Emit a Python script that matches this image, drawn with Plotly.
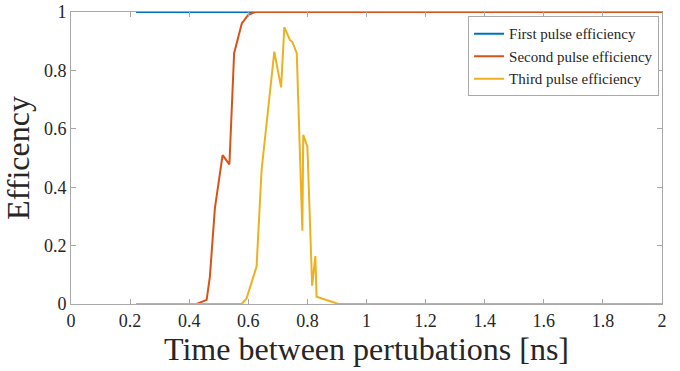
import plotly.graph_objects as go

# Data
x_first = [0.22, 0.6, 1.0, 2.0]
y_first = [1.0, 1.0, 1.0, 1.0]

x_second = [0.22, 0.425, 0.459, 0.470, 0.487, 0.513, 0.536, 0.552, 0.578, 0.600, 0.623, 1.0, 2.0]
y_second = [0.0, 0.0, 0.014, 0.094, 0.328, 0.510, 0.478, 0.859, 0.961, 0.990, 1.0, 1.0, 1.0]

x_third = [0.22, 0.578, 0.594, 0.628, 0.645, 0.688, 0.711, 0.722, 0.741, 0.749, 0.764,
           0.783, 0.786, 0.800, 0.816, 0.827, 0.831, 0.905, 1.0, 2.0]
y_third = [0.0, 0.0, 0.019, 0.128, 0.459, 0.864, 0.742, 0.948, 0.904, 0.898, 0.859,
           0.251, 0.579, 0.539, 0.063, 0.164, 0.025, 0.0, 0.0, 0.0]

names = ["First pulse efficiency", "Second pulse efficiency", "Third pulse efficiency"]
colors = ["#0072BD", "#D95319", "#EDB120"]

x_ticks = [0, 0.2, 0.4, 0.6, 0.8, 1.0, 1.2, 1.4, 1.6, 1.8, 2.0]
x_tick_labels = ["0", "0.2", "0.4", "0.6", "0.8", "1", "1.2", "1.4", "1.6", "1.8", "2"]
y_ticks = [0, 0.2, 0.4, 0.6, 0.8, 1.0]
y_tick_labels = ["0", "0.2", "0.4", "0.6", "0.8", "1"]

FONT = "Liberation Serif, Times New Roman, serif"

fig = go.Figure()
for xs, ys, nm, c in zip([x_first, x_second, x_third], [y_first, y_second, y_third], names, colors):
    fig.add_trace(go.Scatter(x=xs, y=ys, mode="lines", name=nm,
                             line=dict(color=c, width=2)))

axis_common = dict(showgrid=False, zeroline=False, showline=True, mirror="ticks",
                   linecolor="#a8a8a8", linewidth=1, ticks="inside", ticklen=5,
                   tickcolor="#a8a8a8", automargin=False,
                   tickfont=dict(family=FONT, size=18, color="#262626"))

fig.update_layout(
    width=680, height=371,
    margin=dict(l=71, r=18, t=12, b=67),
    paper_bgcolor="white", plot_bgcolor="white",
    font=dict(family=FONT, color="#262626"),
    xaxis=dict(range=[0, 2], tickvals=x_ticks, ticktext=x_tick_labels,
               title=dict(text="Time between pertubations [ns]",
                          font=dict(family=FONT, size=32, color="#262626"), standoff=4),
               **axis_common),
    yaxis=dict(range=[0, 1], tickvals=y_ticks, ticktext=y_tick_labels,
               title=dict(text="Efficency", font=dict(family=FONT, size=32, color="#262626"),
                          standoff=6),
               **axis_common),
    legend=dict(x=0.995, y=0.985, xanchor="right", yanchor="top",
                bgcolor="white", bordercolor="#a8a8a8", borderwidth=1,
                font=dict(family=FONT, size=15, color="#262626"),
                tracegroupgap=0, itemwidth=30),
    showlegend=True,
)

fig.write_html("out.html", config={"displayModeBar": False},
               post_script="document.body.style.margin='0';document.body.style.overflow='hidden';")
